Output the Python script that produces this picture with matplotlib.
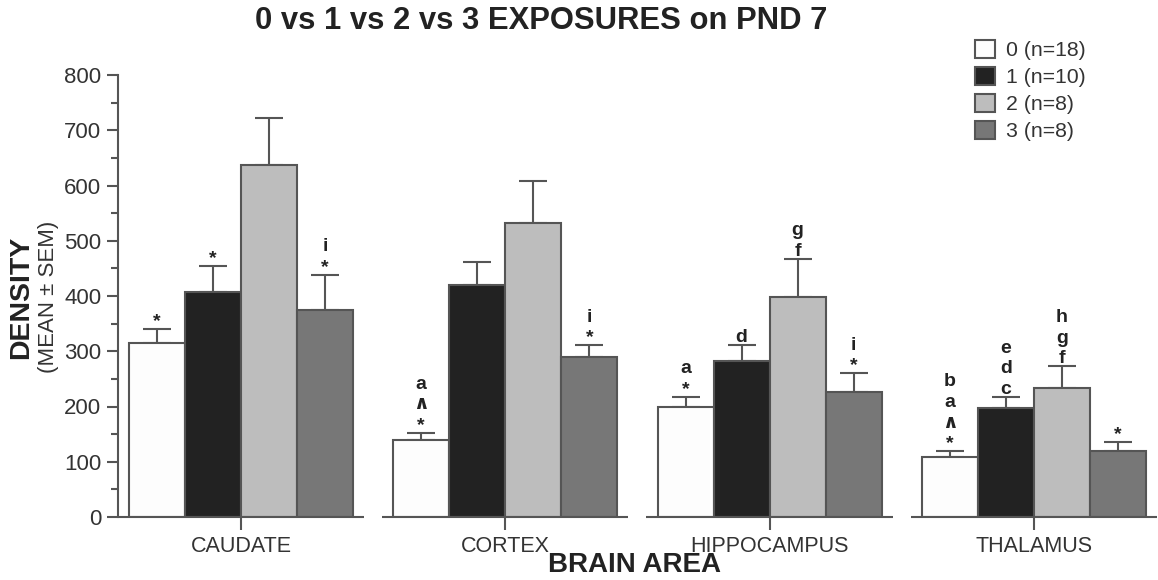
import matplotlib
matplotlib.use("Agg")
import matplotlib.pyplot as plt
from matplotlib.patches import FancyBboxPatch
from matplotlib.legend_handler import HandlerPatch
import numpy as np

plt.rcParams['font.family'] = ['Liberation Sans', 'DejaVu Sans']

# data
groups = ['CAUDATE', 'CORTEX', 'HIPPOCAMPUS', 'THALAMUS']
series_labels = ['0 (n=18)', '1 (n=10)', '2 (n=8)', '3 (n=8)']

exp0 = [315, 139, 199, 109]
exp1 = [407, 420, 282, 197]
exp2 = [637, 532, 398, 233]
exp3 = [375, 290, 226, 119]

sem0 = [25, 13, 18, 10]
sem1 = [47, 41, 29, 20]
sem2 = [85, 76, 69, 40]
sem3 = [63, 21, 34, 17]

# significance marks above each bar, bottom to top
marks0 = [['*'], ['*', '∧', 'a'], ['*', 'a'], ['*', '∧', 'a', 'b']]
marks1 = [['*'], [], ['d'], ['c', 'd', 'e']]
marks2 = [[], [], ['f', 'g'], ['f', 'g', 'h']]
marks3 = [['*', 'i'], ['*', 'i'], ['*', 'i'], ['*']]

means = [exp0, exp1, exp2, exp3]
sems = [sem0, sem1, sem2, sem3]
marks = [marks0, marks1, marks2, marks3]
colors = ['#fdfdfd', '#222222', '#bdbdbd', '#777777']
edge = '#555555'

fig = plt.figure(figsize=(11.58, 5.8), dpi=100)
ax = fig.add_axes([118/1158, 63/580, 1040/1158, 442/580])

x = np.arange(len(groups))
w = 0.212
for i in range(4):
    xs = x + (i - 1.5) * w
    ax.bar(xs, means[i], width=w, color=colors[i], edgecolor=edge,
           linewidth=1.5, label=series_labels[i], zorder=2)
    ax.errorbar(xs, means[i], yerr=[np.zeros(len(groups)), sems[i]], fmt='none',
                ecolor=edge, elinewidth=1.5, capsize=10.4, capthick=1.5, zorder=1)
    for j in range(len(groups)):
        top = means[i][j] + sems[i][j]
        for k, m in enumerate(marks[i][j]):
            ax.annotate(m, (xs[j], top), xytext=(0, 2 + k * 15),
                        textcoords='offset points', ha='center', va='baseline',
                        fontsize=14, fontweight='bold', color='#222222')

# broken x axis, one piece per brain area
for c in x:
    ax.plot([c - 0.466, c + 0.466], [0, 0], color=edge, lw=1.5,
            clip_on=False, zorder=3, solid_capstyle='butt')

ax.set_xlim(-0.465, 3.469)
ax.set_ylim(0, 800)
for s in ['top', 'right', 'bottom']:
    ax.spines[s].set_visible(False)
ax.spines['left'].set_color(edge)
ax.spines['left'].set_linewidth(1.5)

ax.set_yticks(range(0, 801, 100))
ax.set_yticks(range(50, 800, 100), minor=True)
ax.set_xticks(x)
ax.set_xticklabels(groups)
ax.tick_params(axis='y', which='major', length=8, width=1.5, color=edge,
               labelsize=16, labelcolor='#333333', pad=4)
ax.tick_params(axis='y', which='minor', length=5, width=1.5, color=edge)
ax.tick_params(axis='x', length=9, width=1.5, color=edge, labelsize=15.5,
               labelcolor='#333333', pad=5)

fig.text(541/1158, 0.963, '0 vs 1 vs 2 vs 3 EXPOSURES on PND 7', ha='center',
         va='center', fontsize=22.3, fontweight='bold', color='#222222')
fig.text(635/1158, 0.025, 'BRAIN AREA', ha='center', va='center',
         fontsize=20, fontweight='bold', color='#222222')
# y label in two sizes, placed by baseline so the ink sits side by side
fig.text(28/1158, 0.488, 'DENSITY', rotation=90, rotation_mode='anchor',
         ha='center', va='baseline', fontsize=20.5, fontweight='bold', color='#222222')
fig.text(54/1158, 0.488, '(MEAN ± SEM)', rotation=90, rotation_mode='anchor',
         ha='center', va='baseline', fontsize=16, color='#333333')


def rounded_square(legend, orig_handle, xdescent, ydescent, width, height, fontsize):
    return FancyBboxPatch((-xdescent, -ydescent), width, height,
                          boxstyle='round,pad=0,rounding_size=3')


fig.legend(loc='upper left', bbox_to_anchor=(975/1158, 1 - 40/580),
           frameon=False, fontsize=15.3, handlelength=0.95, handleheight=0.95,
           handletextpad=0.5, labelspacing=0.3, borderaxespad=0, borderpad=0,
           labelcolor='#333333',
           handler_map={matplotlib.patches.Rectangle: HandlerPatch(patch_func=rounded_square)})

fig.savefig('out.png', dpi=100)
